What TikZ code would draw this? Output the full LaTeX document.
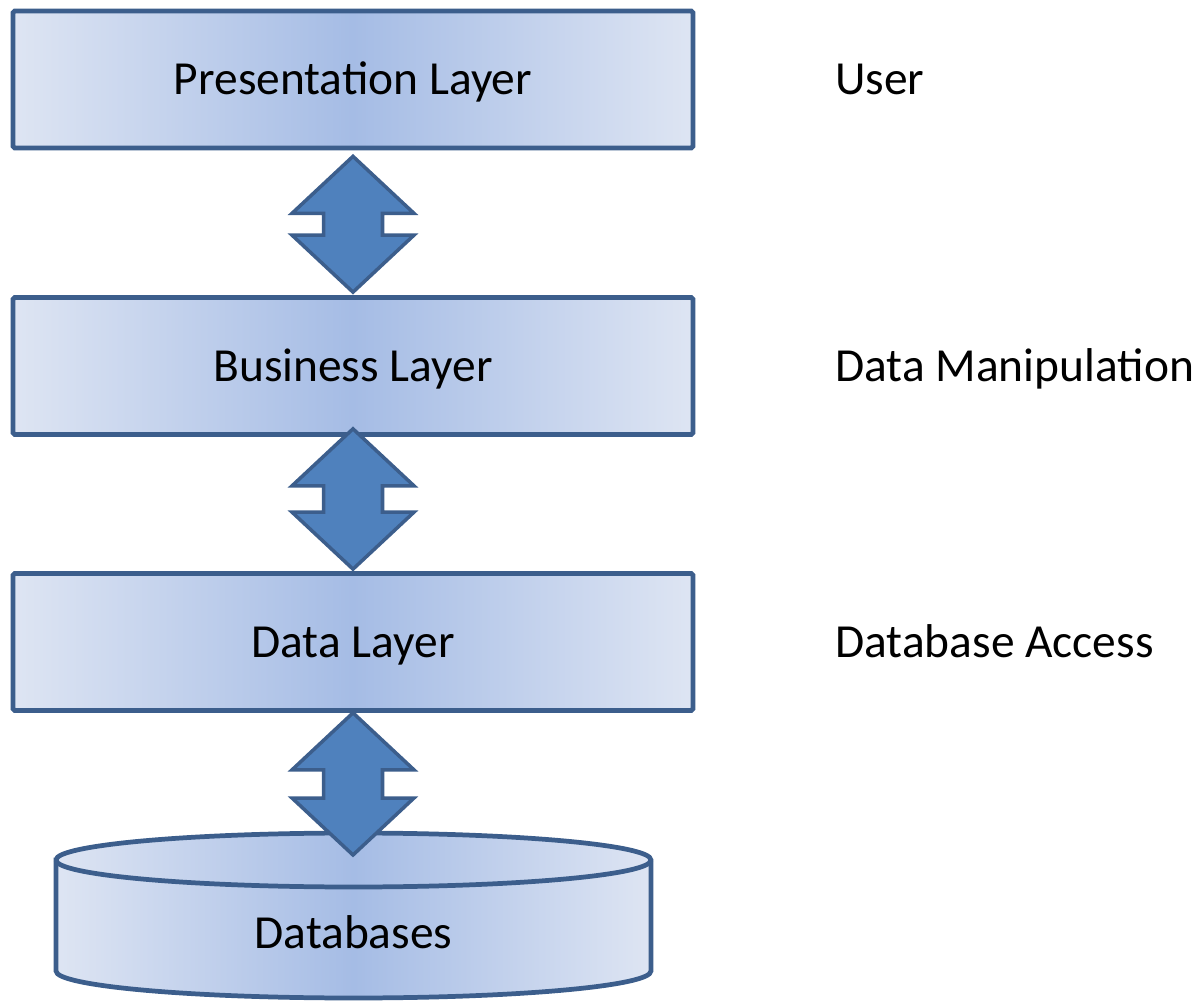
\documentclass[tikz,border=0pt]{standalone}
\usepackage{fontspec}
\setmainfont{Carlito}
\usetikzlibrary{calc}

\definecolor{layerEdge}{RGB}{222,229,243}
\definecolor{layerMid}{RGB}{165,188,229}
\definecolor{layerLine}{RGB}{60,94,140}
\definecolor{arrowFill}{RGB}{79,129,189}

\newcommand{\bigfont}{\fontsize{27}{32}\selectfont}

% up/down arrow between two points (same x)
\newcommand{\layerarrow}[2]{%
  \draw[updown] let \p1=#1, \p2=#2 in
    (\x1,\y1) -- (\x1+1.22cm,\y1-1.14cm) -- (\x1+0.59cm,\y1-1.14cm)
    -- (\x1+0.59cm,\y2+1.14cm) -- (\x1+1.22cm,\y2+1.14cm) -- (\x1,\y2)
    -- (\x1-1.22cm,\y2+1.14cm) -- (\x1-0.59cm,\y2+1.14cm)
    -- (\x1-0.59cm,\y1-1.14cm) -- (\x1-1.22cm,\y1-1.14cm) -- cycle;}

\tikzset{
  capcenter/.style={text height=17.4pt, text depth=0pt, font=\bigfont},
  layer/.style={draw=layerLine, line width=2.7pt, rounded corners=1pt,
    minimum width=13.6cm, minimum height=2.74cm,
    left color=layerEdge, right color=layerEdge, middle color=layerMid,
    capcenter},
  role/.style={anchor=base west, inner sep=0pt, font=\bigfont},
  updown/.style={draw=layerLine, line width=2pt, fill=arrowFill, line join=miter},
  dbshape/.style={draw=layerLine, line width=2.7pt,
    left color=layerEdge, right color=layerEdge, middle color=layerMid}
}

\begin{document}
\begin{tikzpicture}[x=0.02cm, y=0.02cm]
  \useasboundingbox (0,0) rectangle (1201,1002);

  % Layers
  \node[layer] (pres) at (353,922.5) {Presentation Layer};
  \node[layer] (bus)  at (353,636)   {Business Layer};
  \node[layer] (data) at (353,360)   {Data Layer};

  % Database cylinder
  \shade[dbshape] (56,142) -- (56,31)
    arc[start angle=180, end angle=360, x radius=297.5, y radius=27]
    -- (651,142)
    arc[start angle=0, end angle=180, x radius=297.5, y radius=27] -- cycle;
  \draw[layerLine, line width=2.7pt] (56,142)
    arc[start angle=180, end angle=360, x radius=297.5, y radius=27];
  \node[capcenter] (db) at (353.5,69) {Databases};
  \coordinate (dbtop) at (353,147);

  % Arrows
  \layerarrow{($(pres.south)+(0,-6)$)}{($(bus.north)+(0,3)$)}
  \layerarrow{($(bus.south)+(0,8)$)}{($(data.north)+(0,2)$)}
  \layerarrow{(data.south)}{(dbtop)}

  % Roles
  \coordinate (rolecol) at (835,0);
  \node[role] (user)  at (pres.base -| rolecol) {User};
  \node[role] (manip) at (bus.base -| rolecol)  {Data Manipulation};
  \node[role] (acc)   at (data.base -| rolecol) {Database Access};
\end{tikzpicture}
\end{document}
